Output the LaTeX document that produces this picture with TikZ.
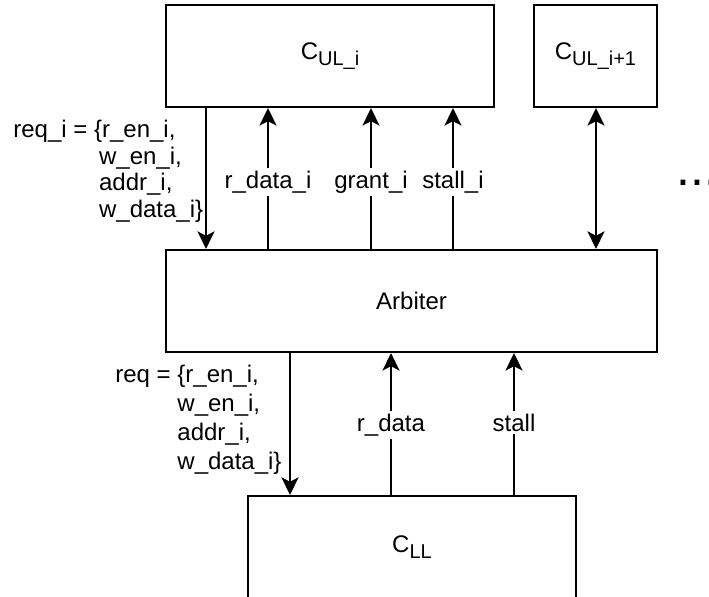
\documentclass[tikz,border=0pt]{standalone}
\usepackage{fontspec}
\setmainfont{Liberation Sans}
\usetikzlibrary{arrows.meta}
\newcommand\mysubtxt[1]{\raisebox{-3pt}{\fontsize{10}{10}\selectfont #1}}
\begin{document}
\begin{tikzpicture}[x=0.5pt,y=-0.5pt,
  txt/.style={font=\fontsize{12}{14}\selectfont},
  box/.style={draw, line width=1pt, rectangle, inner sep=0pt, txt},
  arr/.style={line width=1pt, -{Stealth[length=8.8pt,width=8.5pt,inset=2.2pt]}},
  biarr/.style={line width=1pt, {Stealth[length=8.8pt,width=8.5pt,inset=2.2pt]}-{Stealth[length=8.8pt,width=8.5pt,inset=2.2pt]}},
  lbl/.style={fill=white, inner sep=1.5pt, txt},
  multi/.style={anchor=base west, inner sep=0pt}]
\clip (0,0) rectangle (709,597);
% boxes
\node[box, minimum width=164pt, minimum height=51pt] (cul) at (330,56) {C\mysubtxt{UL\_i}};
\node[box, minimum width=61.5pt, minimum height=51pt] (culn) at (595.5,56) {C\mysubtxt{UL\_i+1}};
\node[box, minimum width=245.5pt, minimum height=51pt] (arb) at (411.5,301) {Arbiter};
\node[box, minimum width=164pt, minimum height=51pt] (cll) at (412,547) {C\mysubtxt{LL}};
% x positions
\coordinate (xreqi) at (206,0);
\coordinate (xrdi) at (268,0);
\coordinate (xgi) at (371,0);
\coordinate (xsi) at (453,0);
\coordinate (xn) at (596,0);
\coordinate (xreq) at (290,0);
\coordinate (xrd) at (391,0);
\coordinate (xst) at (514,0);
% upper connectors
\draw[arr] (cul.south -| xreqi) -- (arb.north -| xreqi);
\draw[arr] (arb.north -| xrdi) -- node[lbl, pos=0.475] {r\_data\_i} (cul.south -| xrdi);
\draw[arr] (arb.north -| xgi) -- node[lbl, pos=0.475] {grant\_i} (cul.south -| xgi);
\draw[arr] (arb.north -| xsi) -- node[lbl, pos=0.475] {stall\_i} (cul.south -| xsi);
\draw[biarr] (culn.south -| xn) -- (arb.north -| xn);
% lower connectors
\draw[arr] (arb.south -| xreq) -- (cll.north -| xreq);
\draw[arr] (cll.north -| xrd) -- node[lbl, pos=0.49] {r\_data} (arb.south -| xrd);
\draw[arr] (cll.north -| xst) -- node[lbl, pos=0.51] {stall} (arb.south -| xst);
% request labels
\node[multi] (reqil) at (13,138) {\fontsize{12}{13.2}\selectfont\begin{tabular}[t]{@{}l@{}l@{}}req\_i =\ \mbox{} & \{r\_en\_i,\\ & \hspace{2.5pt}w\_en\_i,\\ & \hspace{2.5pt}addr\_i,\\ & \hspace{2.5pt}w\_data\_i\}\end{tabular}};
\node[multi] (reql) at (115,383) {\fontsize{12}{14.5}\selectfont\begin{tabular}[t]{@{}l@{}l@{}}req =\ \mbox{} & \{r\_en\_i,\\ & w\_en\_i,\\ & addr\_i,\\ & w\_data\_i\}\end{tabular}};
% ellipsis
\node[anchor=base west, inner sep=0pt, font=\fontsize{25}{25}\selectfont] (dots) at (676,186) {...};
\end{tikzpicture}
\end{document}
